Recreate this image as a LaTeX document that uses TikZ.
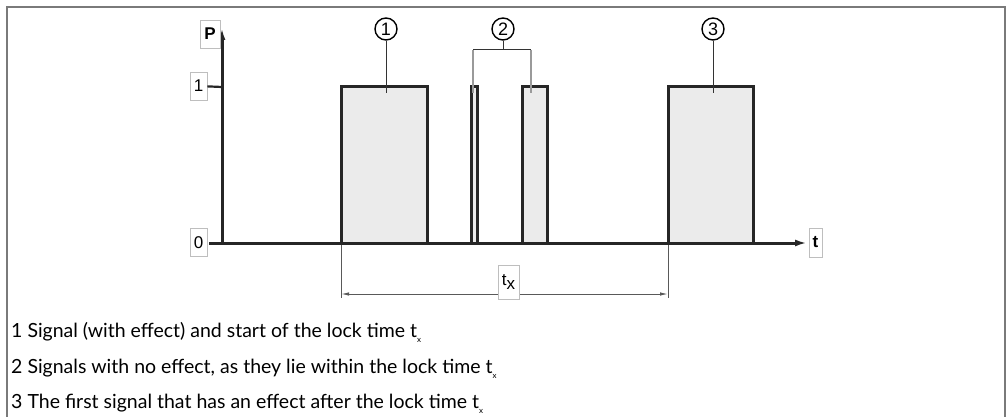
\documentclass[tikz,border=0pt]{standalone}
\usepackage{fontspec}
\setmainfont{Lato}
\newfontfamily\arialfont{Liberation Sans}
\usetikzlibrary{arrows.meta}
\definecolor{cebebeb}{RGB}{235,235,235}
\definecolor{c7a7a7a}{RGB}{122,122,122}
\definecolor{cbbbbbb}{RGB}{190,190,190}
\definecolor{c9a9a9a}{RGB}{154,154,154}
\newcommand\lowx{\raisebox{-0.6ex}{\fontsize{8}{8}\selectfont x}}

\tikzset{
  frame/.style={draw=c7a7a7a, line width=2pt},
  axis/.style={draw=black!85, line width=3pt},
  pulse/.style={draw=black!85, fill=cebebeb, line width=3pt, line join=miter},
  valbox/.style={draw=cbbbbbb, fill=white, line width=0.8pt, inner sep=0pt,
    font=\arialfont\fontsize{17}{17}\selectfont},
  numcircle/.style={circle, draw=black, line width=1.4pt, inner sep=0pt,
    minimum size=22pt, font=\arialfont\fontsize{18}{18}\selectfont},
  leader/.style={draw=black!80, line width=1pt},
  drop/.style={draw=c9a9a9a, line width=1.4pt},
  dimline/.style={draw=black!65, line width=1pt},
  legend/.style={anchor=base west, inner sep=0pt, font=\fontsize{19.5}{19.5}\selectfont},
}

\begin{document}
\begin{tikzpicture}[y=1pt, x=1pt, yscale=-1]
  \useasboundingbox (0,0) rectangle (1007,417);
  \draw[frame] (7,417) -- (7,7) -- (1005,7) -- (1005,417);

  % pulses
  \path[pulse] (341,243) -- (341,87) -- (427,87) -- (427,243);
  \path[pulse] (471,243) -- (471,87) -- (477,87) -- (477,243);
  \path[pulse] (522,243) -- (522,87) -- (547,87) -- (547,243);
  \path[pulse] (668,243) -- (668,87) -- (753,87) -- (753,243);

  % axes
  \coordinate (ytick1) at (222,87);
  \coordinate (ytick0) at (222,243);
  \draw[axis, -{Latex[length=12pt,width=7pt]}] (222,244.5) -- (222,28);
  \draw[axis, -{Latex[length=12pt,width=7pt]}] (209,243) -- (807,243);
  \node[valbox, minimum width=20pt, minimum height=28pt] (lblP) at (210,34) {\bfseries P};
  \node[valbox, minimum width=17pt, minimum height=28pt] (lbl1) at (198.5,86) {1};
  \node[valbox, minimum width=17pt, minimum height=28pt] (lbl0) at (198.5,242.5) {0};
  \node[valbox, minimum width=13pt, minimum height=29pt] (lblt) at (815.5,242.5) {\bfseries t};
  \draw[axis, line width=2.2pt] (lbl1) -- (ytick1);

  % lock time
  \coordinate (dimL) at (341,294);
  \coordinate (dimR) at (668,294);
  \draw[dimline] (341,245) -- (341,298);
  \draw[dimline] (668,245) -- (668,298);
  \draw[dimline, {Latex[length=8pt,width=3.5pt]}-{Latex[length=8pt,width=3.5pt]}] (dimL) -- (dimR);
  \node[valbox, minimum width=21pt, minimum height=34pt] (lbltx) at (508.5,282) {t\raisebox{-0.45ex}{x}};

  % callouts
  \node[numcircle] (c1) at (386,29) {1};
  \node[numcircle] (c2) at (503,29) {2};
  \node[numcircle] (c3) at (713,29) {3};
  \coordinate (p1top) at (386,93);
  \coordinate (p3top) at (713,93);
  \coordinate (br2) at (503,50);
  \coordinate (br2a) at (473,50);
  \coordinate (br2b) at (531,50);
  \coordinate (p2atop) at (473,93);
  \coordinate (p2btop) at (531,93);
  \draw[leader] (c1) -- (p1top);
  \draw[leader] (c3) -- (p3top);
  \draw[leader] (c2) -- (br2);
  \draw[drop] (br2a) -- (p2atop);
  \draw[drop] (br2b) -- (p2btop);
  \draw[leader] (br2a) -- (br2b);

  % legend
  \node[legend] (leg1) at (11,337) {1 Signal (with effect) and start of the lock time t\lowx};
  \node[legend] (leg2) at (11,373) {2 Signals with no effect, as they lie within the lock time t\lowx};
  \node[legend] (leg3) at (11,408) {3 The first signal that has an effect after the lock time t\lowx};
\end{tikzpicture}
\end{document}
